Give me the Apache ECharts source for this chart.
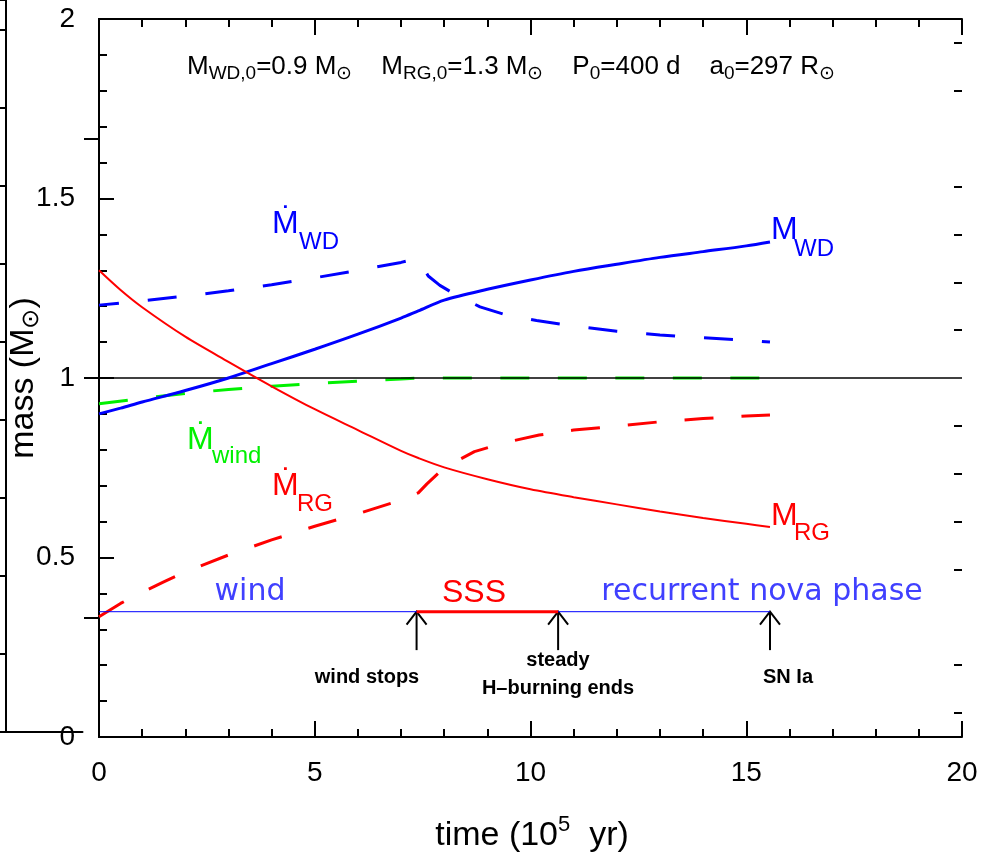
<!DOCTYPE html>
<html>
<head>
<meta charset="utf-8">
<script src="https://cdn.jsdelivr.net/npm/echarts@6/dist/echarts.min.js"></script>
<style>
  html, body { margin: 0; padding: 0; background: #fff; }
  #main { width: 987px; height: 867px; }
</style>
</head>
<body>
<div id="main"></div>
<script>
// time in 10^5 yr, masses in Msun
var tSolid = [0, 0.5, 1, 2, 3, 4, 5, 6, 7, 7.4, 8, 9, 10, 11, 12, 13, 14, 15, 15.55];
var massWD = [0.90, 0.916, 0.933, 0.965, 1.0, 1.04, 1.08, 1.122, 1.167, 1.187, 1.217, 1.247, 1.273, 1.297, 1.317, 1.336, 1.352, 1.368, 1.379];
var massRG = [1.30, 1.245, 1.197, 1.115, 1.045, 0.977, 0.913, 0.855, 0.797, 0.777, 0.751, 0.718, 0.69, 0.668, 0.648, 0.628, 0.61, 0.594, 0.585];

var tDotWD = [0, 1, 2, 3, 4, 5, 6, 7, 7.35, 7.5, 7.63, 7.9, 8.21, 8.83, 9.45, 10.14, 11, 12, 13, 14, 15, 15.55];
var mdotWD = [1.203, 1.215, 1.228, 1.243, 1.26, 1.279, 1.30, 1.322, 1.332, 1.31, 1.284, 1.258, 1.236, 1.198, 1.175, 1.16, 1.145, 1.13, 1.12, 1.112, 1.105, 1.10];

var tDotRG = [0, 0.5, 1, 1.5, 2, 3, 4, 5, 6, 7, 7.4, 7.6, 8, 8.7, 9.4, 10.2, 11, 12, 13, 14, 15, 15.55];
var mdotRG = [0.335, 0.372, 0.403, 0.432, 0.46, 0.507, 0.549, 0.587, 0.622, 0.66, 0.68, 0.705, 0.75, 0.795, 0.82, 0.841, 0.855, 0.866, 0.878, 0.887, 0.894, 0.897];

var tWind = [0, 1, 2, 3, 4, 5, 6, 7, 7.4, 15.55];
var mdotWind = [0.928, 0.943, 0.957, 0.968, 0.977, 0.985, 0.991, 0.997, 1.0, 1.0];

var unityLine = [[0, 1], [20, 1]];
var phaseLevel = 0.349;
var phaseSpan = [0, 15.55];
var sssSpan = [7.36, 10.64];
var arrowTimes = [7.36, 10.64, 15.55];
var arrowTail = 0.242;

var xTicks = [0, 5, 10, 15, 20];
var yTicks = [0, 0.5, 1, 1.5, 2];
var rightMajor = [-7, -6, -5];
var rightMinor = [-7.4, -7.2, -6.8, -6.6, -6.4, -6.2, -5.8, -5.6, -5.4, -5.2, -4.8, -4.6];

var FONT = '"Liberation Sans", Arial, sans-serif';
var NARROW = '"Liberation Sans Narrow", "Liberation Sans", Arial, sans-serif';
var THIN = '"DejaVu Sans", sans-serif';
var BLUE = '#0000ff', RED = '#ff0000', GREEN = '#00f000', PALE = '#4040ff';

function zip(xs, ys) {
    return xs.map(function (x, i) { return [x, ys[i]]; });
}

var mctx = document.createElement('canvas').getContext('2d');
function textWidth(s, font) {
    mctx.font = font;
    return mctx.measureText(s).width;
}

// a run of text pieces [text, size, shift]; shift moves a piece down (sub) or up (sup)
function textRun(x, y, pieces, color, align, rot) {
    rot = rot || 0;
    var fonts = pieces.map(function (p) { return p[1] + 'px ' + FONT; });
    var widths = pieces.map(function (p, i) { return textWidth(p[0], fonts[i]); });
    var total = widths.reduce(function (a, b) { return a + b; }, 0);
    var pos = align === 'center' ? -total / 2 : 0;
    var c = Math.cos(rot), s = Math.sin(rot);
    return pieces.map(function (p, i) {
        var dx = pos, dy = p[2] || 0;
        pos += widths[i];
        return {
            type: 'text', silent: true, rotation: rot,
            x: x + dx * c + dy * s,
            y: y - dx * s + dy * c,
            style: {
                text: p[0], font: fonts[i], fill: color,
                textAlign: 'left', textVerticalAlign: 'middle',
                align: 'left', verticalAlign: 'middle'
            }
        };
    });
}

function label(text, font, x, y, color, align) {
    return {
        type: 'text', silent: true, x: x, y: y,
        style: {
            text: text, font: font, fill: color,
            textAlign: align || 'left', textVerticalAlign: 'middle',
            align: align || 'left', verticalAlign: 'middle'
        }
    };
}

var big = '32px ' + NARROW, small = '24px ' + NARROW;
var note = 'bold 20px ' + FONT;

var graphics = [].concat(
    textRun(187, 67, [
        ['M', 26], ['WD,0', 19, 7], ['=0.9 M', 26], ['\u2299', 19, 7],
        ['    M', 26], ['RG,0', 19, 7], ['=1.3 M', 26], ['\u2299', 19, 7],
        ['    P', 26], ['0', 19, 7], ['=400 d    a', 26], ['0', 19, 7],
        ['=297 R', 26], ['\u2299', 19, 7]
    ], '#000', 'left'),
    textRun(24, 378, [['mass (M', 34], ['\u2299', 24, 7], [')', 34]], '#000', 'center', Math.PI / 2),
    textRun(532, 836, [['time (10', 34], ['5', 22, -11], ['  yr)', 34]], '#000', 'center'),
    [
        label('\u1E40', big, 272, 224, BLUE), label('WD', small, 299, 242, BLUE),
        label('\u1E40', big, 187, 440, GREEN), label('wind', small, 212, 456, GREEN),
        label('\u1E40', big, 272, 486, RED), label('RG', small, 297, 504, RED),
        label('M', big, 771, 230, BLUE), label('WD', small, 794, 249, BLUE),
        label('M', big, 771, 516, RED), label('RG', small, 794, 533, RED),
        label('wind', '30px ' + THIN, 250, 592, PALE, 'center'),
        label('SSS', '32px ' + FONT, 474, 593, RED, 'center'),
        label('recurrent nova phase', '30px ' + THIN, 762, 592, PALE, 'center'),
        label('wind stops', note, 367, 677, '#000', 'center'),
        label('steady', note, 558, 660, '#000', 'center'),
        label('H\u2013burning ends', note, 558, 688, '#000', 'center'),
        label('SN Ia', note, 788, 677, '#000', 'center')
    ]
);

var tickStyle = { color: '#000', width: 2 };

var chart = echarts.init(document.getElementById('main'));
chart.setOption({
    animation: false,
    backgroundColor: '#fff',
    grid: [
        { left: 99, right: 25, top: 19, bottom: 130 },
        { left: -300, right: 981, top: -20, bottom: 135 }
    ],
    xAxis: [
        {
            type: 'value', gridIndex: 0, position: 'bottom', min: 0, max: 20, interval: 5,
            axisLine: { lineStyle: tickStyle },
            axisTick: { inside: true, length: 16, lineStyle: tickStyle },
            minorTick: { show: true, splitNumber: 5, length: 8, lineStyle: tickStyle },
            splitLine: { show: false },
            axisLabel: {
                margin: 22, fontSize: 28, color: '#000', fontFamily: FONT,
                formatter: function (v) { return xTicks.indexOf(v) >= 0 ? String(v) : ''; }
            }
        },
        {
            type: 'value', gridIndex: 0, position: 'top', min: 0, max: 20, interval: 5,
            axisLine: { lineStyle: tickStyle },
            axisTick: { inside: true, length: 16, lineStyle: tickStyle },
            minorTick: { show: true, splitNumber: 5, length: 8, lineStyle: tickStyle },
            splitLine: { show: false }, axisLabel: { show: false }
        },
        {
            type: 'value', gridIndex: 1, min: 0, max: 1,
            axisLine: { lineStyle: tickStyle }, axisTick: { show: false },
            splitLine: { show: false }, axisLabel: { show: false }
        }
    ],
    yAxis: [
        {
            type: 'value', gridIndex: 0, position: 'left', min: 0, max: 2, interval: 0.5,
            axisLine: { show: true, lineStyle: tickStyle },
            axisTick: { show: true, inside: true, length: 15, lineStyle: tickStyle },
            minorTick: { show: true, splitNumber: 5, length: 8, lineStyle: tickStyle },
            splitLine: { show: false },
            axisLabel: {
                margin: 24, fontSize: 28, color: '#000', fontFamily: FONT,
                formatter: function (v) { return yTicks.indexOf(v) >= 0 ? String(v) : ''; }
            }
        },
        {
            type: 'value', gridIndex: 0, position: 'right', min: -7.5, max: -4.5,
            axisLine: { show: true, lineStyle: tickStyle },
            axisTick: { show: true, inside: true, length: 15, lineStyle: tickStyle, customValues: rightMajor },
            splitLine: { show: false }, axisLabel: { show: false }
        },
        {
            type: 'value', gridIndex: 0, position: 'right', min: -7.5, max: -4.5,
            axisLine: { show: false },
            axisTick: { show: true, inside: true, length: 8, lineStyle: tickStyle, customValues: rightMinor },
            splitLine: { show: false }, axisLabel: { show: false }
        },
        {
            type: 'value', gridIndex: 1, position: 'right', min: 0, max: 9.377, interval: 1,
            axisLine: { show: true, lineStyle: tickStyle },
            axisTick: { show: true, inside: true, length: 7, lineStyle: tickStyle },
            splitLine: { show: false }, axisLabel: { show: false }
        }
    ],
    series: [
        {
            name: 'Mdot wind', type: 'line', data: zip(tWind, mdotWind), showSymbol: false,
            lineStyle: { color: GREEN, width: 3, type: [29, 28.5] }
        },
        {
            name: 'unity', type: 'line', data: unityLine, showSymbol: false,
            lineStyle: { color: '#000', width: 1.3 }
        },
        {
            name: 'Mdot WD', type: 'line', data: zip(tDotWD, mdotWD), showSymbol: false,
            lineStyle: { color: BLUE, width: 3, type: [29, 29], dashOffset: 9 }
        },
        {
            name: 'Mdot RG', type: 'line', data: zip(tDotRG, mdotRG), showSymbol: false,
            lineStyle: { color: RED, width: 3, type: [29, 28] }
        },
        {
            name: 'M WD', type: 'line', data: zip(tSolid, massWD), showSymbol: false, smooth: 0.3,
            lineStyle: { color: BLUE, width: 3 }
        },
        {
            name: 'M RG', type: 'line', data: zip(tSolid, massRG), showSymbol: false, smooth: 0.3,
            lineStyle: { color: RED, width: 2 }
        },
        {
            name: 'phases', type: 'line', showSymbol: false,
            data: [[phaseSpan[0], phaseLevel], [phaseSpan[1], phaseLevel]],
            lineStyle: { color: BLUE, width: 1 }
        },
        {
            name: 'SSS', type: 'line', showSymbol: false,
            data: [[sssSpan[0], phaseLevel], [sssSpan[1], phaseLevel]],
            lineStyle: { color: RED, width: 3 }
        },
        {
            name: 'arrows', type: 'custom',
            data: arrowTimes.map(function (t) { return [t, phaseLevel, arrowTail]; }),
            renderItem: function (params, api) {
                var tip = api.coord([api.value(0), api.value(1)]);
                var tail = api.coord([api.value(0), api.value(2)]);
                return {
                    type: 'group',
                    children: [
                        { type: 'line', shape: { x1: tip[0], y1: tip[1], x2: tail[0], y2: tail[1] },
                          style: { stroke: '#000', lineWidth: 2 } },
                        { type: 'polyline', shape: { points: [[tip[0] - 10, tip[1] + 13], [tip[0], tip[1]], [tip[0] + 10, tip[1] + 13]] },
                          style: { stroke: '#000', fill: null, lineWidth: 2 } }
                    ]
                };
            }
        }
    ],
    graphic: graphics
});
</script>
</body>
</html>
